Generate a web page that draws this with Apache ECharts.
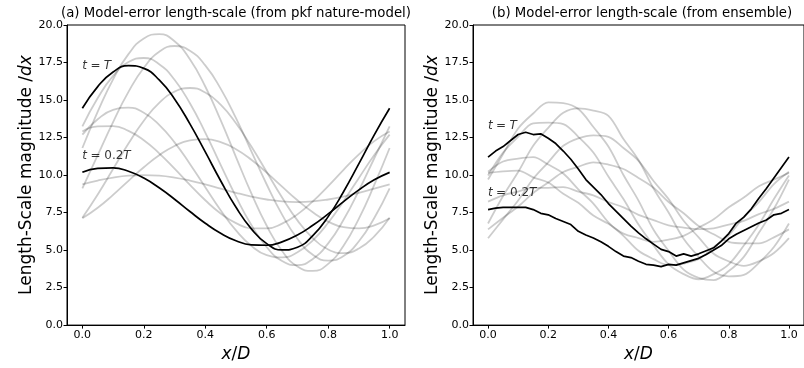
<!DOCTYPE html>
<html>
<head>
<meta charset="utf-8">
<script src="https://cdn.jsdelivr.net/npm/echarts@6/dist/echarts.min.js"></script>
<style>html,body{margin:0;padding:0;background:#fff}#c{width:804px;height:368px}</style>
</head>
<body>
<div id="c"></div>
<script>
// ---------- data ----------
const xs21 = [0,0.05,0.1,0.15,0.2,0.25,0.3,0.35,0.4,0.45,0.5,0.55,0.6,0.65,0.7,0.75,0.8,0.85,0.9,0.95,1.0];
const xs41 = Array.from({length:41},(_,i)=>i/40);
const xTickValues = [0,0.2,0.4,0.6,0.8,1.0];
const panelTitles = ['(a) Model-error length-scale (from pkf nature-model)','(b) Model-error length-scale (from ensemble)'];

// panel (a): pkf nature-model
const leftGray1 = [11.80,14.22,16.38,18.06,19.10,19.39,18.92,17.71,15.90,13.66,11.20,8.78,6.62,4.94,3.90,3.61,4.08,5.29,7.10,9.34,11.80];
const leftGray2 = [9.11,11.32,13.53,15.54,17.15,18.21,18.60,18.29,17.31,15.76,13.79,11.58,9.37,7.36,5.75,4.69,4.30,4.61,5.59,7.14,9.11];
const leftGray3 = [13.24,15.13,16.61,17.53,17.80,17.39,16.35,14.78,12.83,10.68,8.56,6.67,5.19,4.27,4.00,4.41,5.45,7.02,8.97,11.12,13.24];
const leftGray4 = [7.15,8.70,10.40,12.10,13.62,14.81,15.56,15.80,15.50,14.69,13.45,11.90,10.20,8.50,6.98,5.79,5.04,4.80,5.10,5.91,7.15];
const leftGray5 = [12.69,13.72,14.34,14.49,14.15,13.35,12.18,10.74,9.19,7.66,6.31,5.28,4.66,4.51,4.85,5.65,6.82,8.26,9.81,11.34,12.69];
const leftGray6 = [12.90,13.25,13.26,12.94,12.32,11.45,10.43,9.35,8.32,7.44,6.80,6.45,6.44,6.76,7.38,8.25,9.27,10.35,11.38,12.26,12.90];
const leftGray7 = [7.12,7.82,8.68,9.61,10.52,11.32,11.94,12.31,12.39,12.19,11.72,11.02,10.16,9.23,8.32,7.52,6.90,6.53,6.45,6.65,7.12];
const leftGray8 = [9.38,9.63,9.83,9.96,10.00,9.96,9.83,9.63,9.38,9.10,8.82,8.57,8.37,8.24,8.20,8.24,8.37,8.57,8.82,9.10,9.38];
const leftBlackT = [14.45,15.89,16.87,17.29,17.11,16.34,15.07,13.41,11.54,9.62,7.85,6.41,5.43,5.01,5.19,5.96,7.23,8.89,10.76,12.68,14.45];
const leftBlack02T = [10.18,10.45,10.48,10.25,9.80,9.15,8.39,7.57,6.79,6.12,5.62,5.35,5.32,5.55,6.00,6.65,7.41,8.23,9.01,9.68,10.18];

// panel (b): ensemble
const rightGray1 = [9.70,11.40,13.10,14.10,14.85,14.80,14.40,13.20,11.90,10.00,8.30,6.35,4.95,3.70,3.15,3.00,3.60,4.55,6.15,7.75,9.70];
const rightGray2 = [6.77,8.60,10.20,11.95,13.15,14.15,14.45,14.30,13.95,12.40,11.00,9.10,7.50,5.75,4.55,3.55,3.25,3.35,4.15,5.20,6.77];
const rightGray3 = [9.97,11.50,12.55,13.45,13.50,13.40,12.55,11.50,9.90,8.40,6.70,5.30,4.05,3.40,3.05,3.40,4.05,5.30,6.70,8.40,9.97];
const rightGray4 = [5.79,7.05,8.30,9.75,10.85,11.95,12.45,12.65,12.55,11.80,10.95,9.60,8.40,6.95,5.85,4.75,4.25,3.95,4.25,4.80,5.79];
const rightGray5 = [10.22,10.90,11.10,11.20,10.70,10.10,9.05,8.10,6.85,5.95,4.95,4.40,4.00,4.10,4.40,5.20,6.00,7.20,8.20,9.40,10.22];
const rightGray6 = [10.14,10.25,10.30,9.85,9.50,8.75,8.15,7.30,6.75,6.10,5.80,5.55,5.70,5.95,6.50,7.05,7.85,8.50,9.25,9.70,10.14];
const rightGray7 = [6.38,7.15,7.90,8.80,9.50,10.20,10.55,10.85,10.70,10.40,9.80,9.15,8.20,7.45,6.60,6.05,5.55,5.45,5.45,5.85,6.38];
const rightGray8 = [8.23,8.65,8.90,9.15,9.15,9.20,8.90,8.65,8.20,7.85,7.35,7.00,6.65,6.50,6.40,6.45,6.70,6.95,7.40,7.75,8.23];
const rightBlackT = [11.2,11.6,11.9,12.3,12.7,12.85,12.7,12.75,12.45,12.1,11.6,11.05,10.4,9.7,9.2,8.7,8.1,7.6,7.1,6.6,6.15,5.75,5.4,5.05,4.9,4.6,4.75,4.6,4.75,4.95,5.15,5.6,6.1,6.8,7.2,7.75,8.45,9.1,9.8,10.5,11.2];
const rightBlack02T = [7.7,7.8,7.85,7.85,7.85,7.85,7.7,7.45,7.35,7.1,6.9,6.7,6.25,6.0,5.8,5.55,5.25,4.9,4.6,4.5,4.25,4.05,4.0,3.9,4.05,4.0,4.15,4.3,4.45,4.7,5.0,5.3,5.75,6.05,6.3,6.55,6.8,7.0,7.35,7.45,7.7];

// curve annotations: [x, y] in data units
const leftLabelT = [0, 17.3];
const leftLabel02T = [0, 11.3];
const rightLabelT = [0, 13.3];
const rightLabel02T = [0, 8.8];

// ---------- chart ----------
const FONT = 'DejaVu Sans';
const pairs = (xs, ys) => xs.map((x, i) => [x, ys[i]]);
const grayStyle = {color: 'rgba(0,0,0,0.2)', width: 1.8};
const blackStyle = {color: '#000', width: 1.7};

function lineSeries(idx, xs, ys, style, smooth) {
  return {type: 'line', xAxisIndex: idx, yAxisIndex: idx, data: pairs(xs, ys), showSymbol: false,
    symbol: 'none', smooth: smooth, lineStyle: style, silent: true, animation: false, z: style.color === '#000' ? 3 : 2};
}
const richLabel = {i: {fontStyle: 'italic', fontFamily: FONT, fontSize: 12, color: '#000'},
                   n: {fontFamily: FONT, fontSize: 12, color: '#000'}};
function textSeries(idx, pos, txt) {
  return {type: 'scatter', xAxisIndex: idx, yAxisIndex: idx, data: [pos], symbolSize: 0, silent: true, animation: false, z: 5,
    label: {show: true, position: 'right', distance: 0, formatter: txt, rich: richLabel}};
}

function xAxisCfg(idx) {
  return {gridIndex: idx, type: 'value', min: -0.05, max: 1.05,
    axisLine: {show: true, onZero: false, lineStyle: {color: '#000', width: 1}},
    axisTick: {show: true, customValues: xTickValues, length: 3.5, lineStyle: {color: '#000'}},
    axisLabel: {customValues: xTickValues, formatter: v => v.toFixed(1), fontFamily: FONT, fontSize: 11, color: '#000', margin: 5},
    splitLine: {show: false},
    name: '{i|x}/{i|D}', nameLocation: 'middle', nameGap: 19,
    nameTextStyle: {fontFamily: FONT, fontSize: 17, color: '#000',
      rich: {i: {fontStyle: 'italic', fontFamily: FONT, fontSize: 17, color: '#000'}}}};
}
function yAxisCfg(idx) {
  return {gridIndex: idx, type: 'value', min: 0, max: 20, interval: 2.5,
    axisLine: {show: true, onZero: false, lineStyle: {color: '#000', width: 1}},
    axisTick: {show: true, length: 3.5, lineStyle: {color: '#000'}},
    axisLabel: {formatter: v => v.toFixed(1), fontFamily: FONT, fontSize: 11, color: '#000', margin: 4},
    splitLine: {show: false},
    name: 'Length-Scale magnitude /{i|dx}', nameLocation: 'middle', nameGap: 32,
    nameTextStyle: {fontFamily: FONT, fontSize: 17, color: '#000',
      rich: {i: {fontStyle: 'italic', fontFamily: FONT, fontSize: 17, color: '#000'}}}};
}

const series = [];
[leftGray1,leftGray2,leftGray3,leftGray4,leftGray5,leftGray6,leftGray7,leftGray8].forEach(d => series.push(lineSeries(0, xs21, d, grayStyle, true)));
series.push(lineSeries(0, xs21, leftBlackT, blackStyle, true));
series.push(lineSeries(0, xs21, leftBlack02T, blackStyle, true));
[rightGray1,rightGray2,rightGray3,rightGray4,rightGray5,rightGray6,rightGray7,rightGray8].forEach(d => series.push(lineSeries(1, xs21, d, grayStyle, 0.35)));
series.push(lineSeries(1, xs41, rightBlackT, blackStyle, false));
series.push(lineSeries(1, xs41, rightBlack02T, blackStyle, false));
series.push(textSeries(0, leftLabelT, '{i|t} {n|=} {i|T}'));
series.push(textSeries(0, leftLabel02T, '{i|t} {n|= 0.2}{i|T}'));
series.push(textSeries(1, rightLabelT, '{i|t} {n|=} {i|T}'));
series.push(textSeries(1, rightLabel02T, '{i|t} {n|= 0.2}{i|T}'));

const chart = echarts.init(document.getElementById('c'), null, {renderer: 'canvas'});
chart.setOption({
  animation: false,
  backgroundColor: '#fff',
  grid: [
    {left: 67, top: 25, width: 338, height: 303, show: true, borderColor: '#000', borderWidth: 1, backgroundColor: 'transparent'},
    {left: 473, top: 25, width: 339, height: 303, show: true, borderColor: '#000', borderWidth: 1, backgroundColor: 'transparent'}
  ],
  xAxis: [xAxisCfg(0), xAxisCfg(1)],
  yAxis: [yAxisCfg(0), yAxisCfg(1)],
  graphic: [
    {type: 'text', x: 236, y: 14, style: {text: panelTitles[0], align: 'center', verticalAlign: 'middle', font: '13.3px "DejaVu Sans"', fill: '#000'}},
    {type: 'text', x: 642, y: 14, style: {text: panelTitles[1], align: 'center', verticalAlign: 'middle', font: '13.3px "DejaVu Sans"', fill: '#000'}}
  ],
  series: series
});
</script>
</body>
</html>
